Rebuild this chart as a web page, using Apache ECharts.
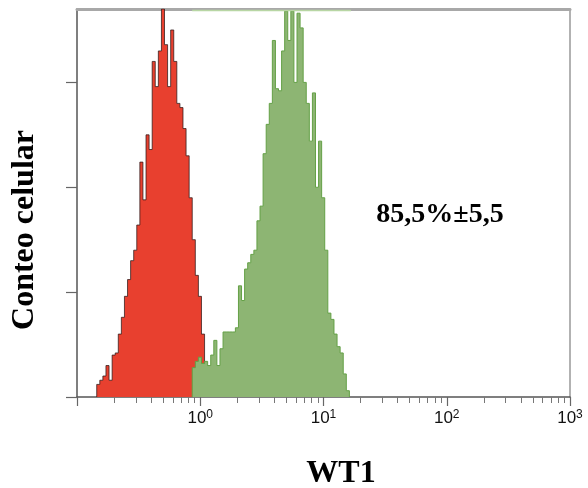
<!DOCTYPE html>
<html>
<head>
<meta charset="utf-8">
<script src="https://cdn.jsdelivr.net/npm/echarts@6/dist/echarts.min.js"></script>
<style>html,body{margin:0;padding:0;background:#fff;}#c{width:588px;height:488px;}</style>
</head>
<body>
<div id="c"></div>
<script>
// Histogram bins (log10 units of WT1 intensity)
const binWidth = 0.025;
const redStartLog = -0.84;
const redCounts = [6,8,10,15,8,20,21,30,38,48,56,65,70,82,112,94,125,118,160,148,165,185,168,148,175,160,140,138,128,115,95,75,58,48,30,15];
const greenStartLog = -0.065;
const greenCounts = [14,17,19,16,17,15,20,27,15,23,31,31,31,31,33,53,46,61,64,68,70,84,91,116,130,140,170,147,146,165,184,170,184,150,183,176,150,140,122,145,100,122,95,70,40,37,30,24,21,11,3];
const greenTopLine = [[0.86, 184.3], [16.7, 184.3]];
const xMajorTicks = [0.1, 1, 10, 100, 1000];
const xLabelTicks = [1, 10, 100, 1000];
const xMinorTicks = [0.2,0.3,0.4,0.5,0.6,0.7,0.8,0.9,2,3,4,5,6,7,8,9,20,30,40,50,60,70,80,90,200,300,400,500,600,700,800,900];
const yTicks = [0, 50, 100, 150];
const annotation = '85,5%±5,5';
const xTitle = 'WT1';
const yTitle = 'Conteo celular';

function toSteps(startLog, counts) {
  const pts = [[Math.pow(10, startLog), 0]];
  counts.forEach((c, i) => pts.push([Math.pow(10, startLog + i * binWidth), c]));
  pts.push([Math.pow(10, startLog + counts.length * binWidth), 0]);
  return pts;
}

const titleGraphics = [
  { type: 'text', id: 'ytitle', x: 25, y: 230, rotation: Math.PI / 2,
    style: { text: yTitle, fontFamily: 'Liberation Serif', fontWeight: 'bold', fontSize: 32, fill: '#000', align: 'center', verticalAlign: 'middle' } },
  { type: 'text', id: 'xtitle', x: 341, y: 474,
    style: { text: xTitle, fontFamily: 'Liberation Serif', fontWeight: 'bold', fontSize: 32, fill: '#000', align: 'center', verticalAlign: 'middle' } },
  { type: 'text', id: 'annot', x: 440, y: 215,
    style: { text: annotation, fontFamily: 'Liberation Serif', fontWeight: 'bold', fontSize: 28, fill: '#000', align: 'center', verticalAlign: 'middle' } }
];

const chart = echarts.init(document.getElementById('c'));
chart.setOption({
  animation: false,
  backgroundColor: '#fff',
  grid: { left: 77, right: 18, top: 9, bottom: 91 },
  xAxis: [
    {
      type: 'log', logBase: 10, min: 0.1, max: 1000, position: 'bottom',
      axisLine: { lineStyle: { color: '#555', width: 1.5 } },
      axisTick: { customValues: xMajorTicks, length: 9, lineStyle: { color: '#666', width: 1.2 } },
      axisLabel: { show: false },
      splitLine: { show: false }
    },
    {
      type: 'log', logBase: 10, min: 0.1, max: 1000, position: 'bottom',
      axisLine: { show: false },
      axisTick: { customValues: xMinorTicks, length: 6, lineStyle: { color: '#777', width: 1 } },
      axisLabel: { show: false }, splitLine: { show: false }
    },
    {
      type: 'value', min: 0, max: 1, position: 'top',
      axisLine: { lineStyle: { color: '#a8a8a8', width: 3 } },
      axisTick: { show: false }, axisLabel: { show: false }, splitLine: { show: false }
    }
  ],
  yAxis: [
    {
      type: 'value', min: 0, max: 185, position: 'left',
      axisLine: { show: true, lineStyle: { color: '#555', width: 1.5 } },
      axisTick: { show: true, customValues: yTicks, length: 11, lineStyle: { color: '#666', width: 1.2 } },
      axisLabel: { show: false }, splitLine: { show: false }
    },
    {
      type: 'value', min: 0, max: 1, position: 'right',
      axisLine: { show: true, lineStyle: { color: '#999', width: 1.5 } },
      axisTick: { show: false }, axisLabel: { show: false }, splitLine: { show: false }
    }
  ],
  series: [
    {
      type: 'line', name: 'control', step: 'end', data: toSteps(redStartLog, redCounts),
      xAxisIndex: 0, yAxisIndex: 0, symbol: 'none',
      lineStyle: { color: 'rgba(45,25,25,0.75)', width: 1 },
      areaStyle: { color: '#e8402f', opacity: 1 }, z: 2
    },
    {
      type: 'line', name: 'WT1', step: 'end', data: toSteps(greenStartLog, greenCounts),
      xAxisIndex: 0, yAxisIndex: 0, symbol: 'none',
      lineStyle: { color: '#64a046', width: 1 },
      areaStyle: { color: '#8db573', opacity: 1 }, z: 3
    },
    {
      type: 'line', name: 'top', data: greenTopLine, xAxisIndex: 0, yAxisIndex: 0, symbol: 'none',
      lineStyle: { color: '#b8d6a4', width: 1.5 }, z: 3
    }
  ],
  graphic: titleGraphics
});

// Decade tick labels (10^n), placed through the x axis scale
const labelRich = {
  b: { fontFamily: 'Liberation Sans', fontSize: 17, fill: '#111', verticalAlign: 'bottom', lineHeight: 18 },
  s: { fontFamily: 'Liberation Sans', fontSize: 12, fill: '#111', verticalAlign: 'top', lineHeight: 11 }
};
const axisY = chart.convertToPixel({ yAxisIndex: 0 }, 0);
const labelGraphics = xLabelTicks.map((v, i) => ({
  type: 'text', id: 'xl' + i,
  x: chart.convertToPixel({ xAxisIndex: 0 }, v),
  y: axisY + 12,
  style: {
    text: '{b|10}{s|' + Math.round(Math.log10(v)) + '}',
    rich: labelRich, fill: '#111', fontFamily: 'Liberation Sans', fontSize: 17,
    align: 'center', verticalAlign: 'top'
  }
}));
chart.setOption({ graphic: titleGraphics.concat(labelGraphics) });
</script>
</body>
</html>
